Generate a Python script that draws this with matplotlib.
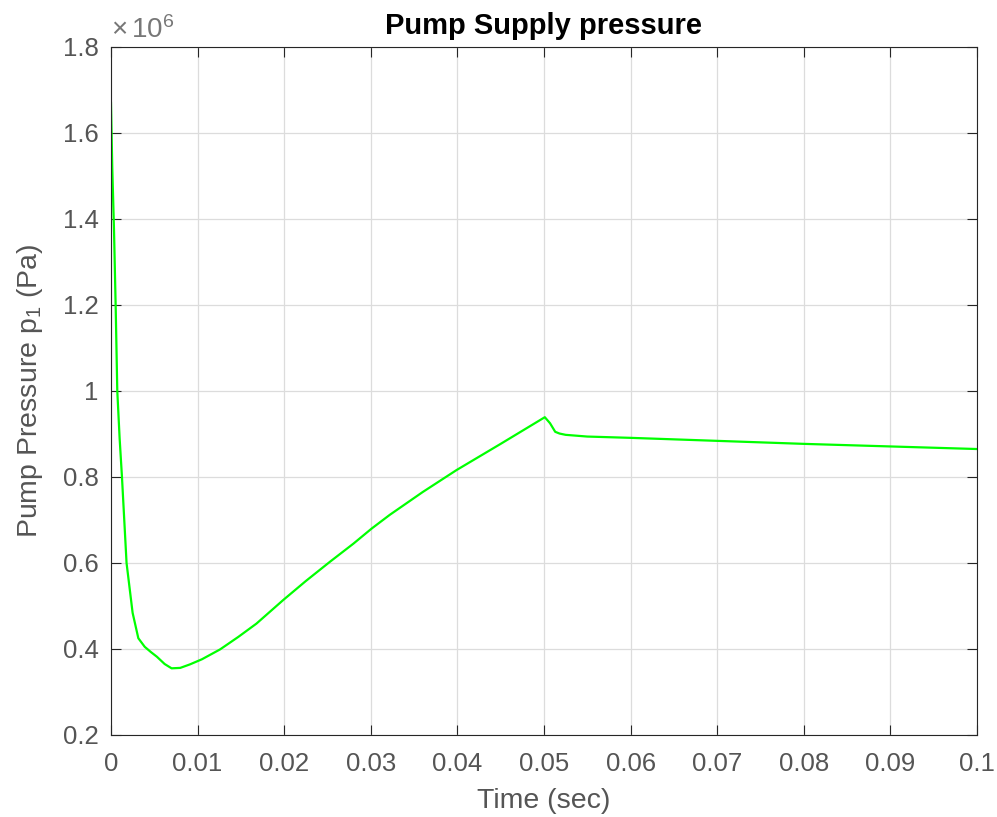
import matplotlib.pyplot as plt
import numpy as np

# pump supply pressure (Pa)
t = [0.0, 0.00015, 0.00035, 0.00055, 0.00073, 0.00100, 0.00127, 0.0018, 0.0025,
     0.00316, 0.0039, 0.0046, 0.0053, 0.0062, 0.0070, 0.0080, 0.0091, 0.0105,
     0.0126, 0.0147, 0.0168, 0.0199, 0.0225, 0.0253, 0.0280, 0.0301, 0.0322,
     0.0360, 0.0399, 0.0450, 0.0501, 0.0507, 0.0513, 0.0518, 0.0525, 0.0550,
     0.0600, 0.0700, 0.0800, 0.0900, 0.1000]
p1 = [1.67e6, 1.52e6, 1.375e6, 1.19e6, 1.00e6, 0.89e6, 0.80e6, 0.60e6, 0.484e6,
      0.425e6, 0.405e6, 0.393e6, 0.382e6, 0.365e6, 0.355e6, 0.356e6, 0.364e6, 0.376e6,
      0.399e6, 0.428e6, 0.459e6, 0.514e6, 0.558e6, 0.603e6, 0.645e6, 0.680e6, 0.712e6,
      0.765e6, 0.816e6, 0.877e6, 0.939e6, 0.925e6, 0.905e6, 0.901e6, 0.898e6, 0.894e6,
      0.891e6, 0.884e6, 0.877e6, 0.871e6, 0.865e6]

xticks = np.arange(0, 0.1001, 0.01)
yticks = np.arange(0.2, 1.801, 0.2)

plt.rcParams['font.family'] = ['Liberation Sans', 'DejaVu Sans']
plt.rcParams['mathtext.fontset'] = 'custom'
plt.rcParams['mathtext.rm'] = 'Liberation Sans'
plt.rcParams['mathtext.it'] = 'Liberation Sans'
gray = '#262626'
txt = '#555555'

fig = plt.figure(figsize=(9.97, 8.17), dpi=100)
ax = fig.add_axes([0.1113, 0.1004, 0.8686, 0.8421])
ax.plot(t, np.array(p1) / 1e6, color='#00ff00', lw=1.6)

ax.set_xlim(0, 0.1)
ax.set_ylim(0.2, 1.8)
ax.set_xticks(xticks)
ax.set_yticks(yticks)
ax.set_xticklabels(['0'] + ['%g' % round(v, 2) for v in xticks[1:]])
ax.set_yticklabels(['%g' % round(v, 1) for v in yticks])
ax.grid(True, color='#dcdcdc', lw=0.9)
ax.tick_params(direction='in', top=True, right=True, length=7, colors=gray,
               labelsize=18.5, labelcolor=txt)
ax.tick_params(axis='x', pad=12)
ax.tick_params(axis='y', pad=9)
for s in ax.spines.values():
    s.set_color(gray)
ax.text(0.0, 1.004, r'$\times\,10^6$', transform=ax.transAxes, fontsize=20,
        color='#777777', va='bottom', ha='left')

ax.set_title('Pump Supply pressure', fontsize=21, fontweight='bold', pad=9)
ax.set_xlabel('Time (sec)', fontsize=20.5, color=txt, labelpad=9)
ax.set_ylabel('Pump Pressure p$_1$ (Pa)', fontsize=20.5, color=txt, labelpad=13)

fig.savefig('out.png')
